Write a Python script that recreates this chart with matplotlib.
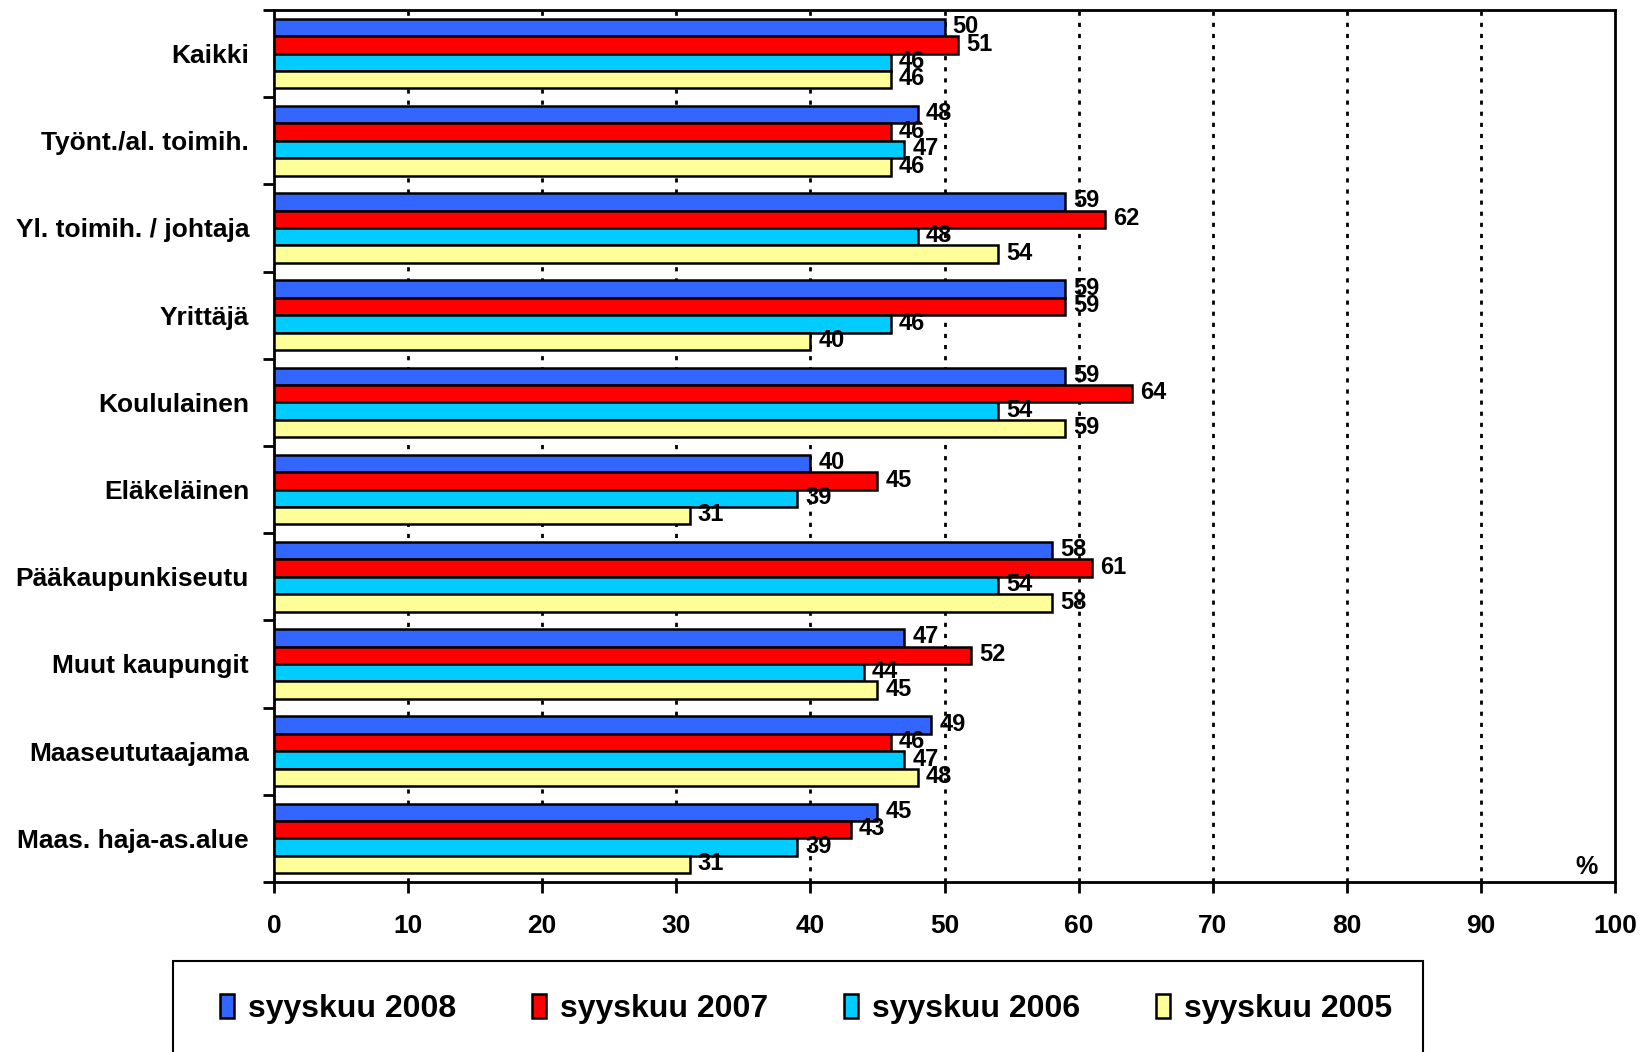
import numpy as np
import matplotlib
matplotlib.use("Agg")
import matplotlib.pyplot as plt
from matplotlib.patches import Rectangle

plt.rcParams['font.family'] = ['Liberation Sans', 'DejaVu Sans']
plt.rcParams['font.weight'] = 'bold'

categories = ["Kaikki", "Työnt./al. toimih.", "Yl. toimih. / johtaja", "Yrittäjä",
              "Koululainen", "Eläkeläinen", "Pääkaupunkiseutu", "Muut kaupungit",
              "Maaseututaajama", "Maas. haja-as.alue"]
s2008 = [50, 48, 59, 59, 59, 40, 58, 47, 49, 45]
s2007 = [51, 46, 62, 59, 64, 45, 61, 52, 46, 43]
s2006 = [46, 47, 48, 46, 54, 39, 54, 44, 47, 39]
s2005 = [46, 46, 54, 40, 59, 31, 58, 45, 48, 31]
series_names = ["syyskuu 2008", "syyskuu 2007", "syyskuu 2006", "syyskuu 2005"]
colors = ["#3366FF", "#FF0000", "#00CCFF", "#FFFF99"]

fig = plt.figure(figsize=(16.41, 10.52), dpi=100)
ax = fig.add_axes([274 / 1641, 1 - 882 / 1052, (1615 - 274) / 1641, (882 - 10) / 1052])

y = np.arange(len(categories))
h = 0.2
handles = []
for k, (vals, name, col) in enumerate(zip([s2008, s2007, s2006, s2005], series_names, colors)):
    pos = y + (k - 1.5) * h
    b = ax.barh(pos, vals, height=h, color=col, edgecolor="black", lw=1.8, zorder=3, label=name)
    handles.append(b)
    for p, v in zip(pos, vals):
        ax.text(v + 0.6, p - 0.01, str(v), va="center", ha="left", fontsize=17,
                fontweight="bold", zorder=4)

ax.set_xlim(0, 100)
ax.set_ylim(len(categories) - 0.5, -0.5)
ax.set_xticks(range(0, 101, 10))
ax.tick_params(axis="x", direction="out", length=8, width=2, labelsize=19, pad=15)
ax.set_yticks(y)
ax.set_yticklabels(categories)
ax.tick_params(axis="y", which="major", length=0, labelsize=19, pad=18)
ax.set_yticks(np.arange(-0.5, len(categories)), minor=True)
ax.tick_params(axis="y", which="minor", direction="out", length=8, width=2)
for lab in ax.get_xticklabels() + ax.get_yticklabels():
    lab.set_fontweight("bold")

for xv in range(10, 100, 10):
    ax.axvline(xv, color="black", lw=2, ls=(0, (1.5, 2.5)), zorder=1)
for sp in ax.spines.values():
    sp.set_linewidth(2)

ax.text(98.7, 9.47, "%", ha="right", va="bottom", fontsize=18, fontweight="bold")

# legend box
fig.patches.append(Rectangle((173 / 1641, -0.02), (1423 - 173) / 1641, 1 - 961 / 1052 + 0.02,
                             transform=fig.transFigure, fill=False, edgecolor="black", lw=1.5))
fig.legend(handles=handles, loc="center", bbox_to_anchor=(806 / 1641, 1 - 1009 / 1052),
           ncol=4, frameon=False, handlelength=0.45, handleheight=0.8,
           handletextpad=0.45, columnspacing=2.35, prop={"weight": "bold", "size": 23})

plt.savefig("out.png", dpi=100)
